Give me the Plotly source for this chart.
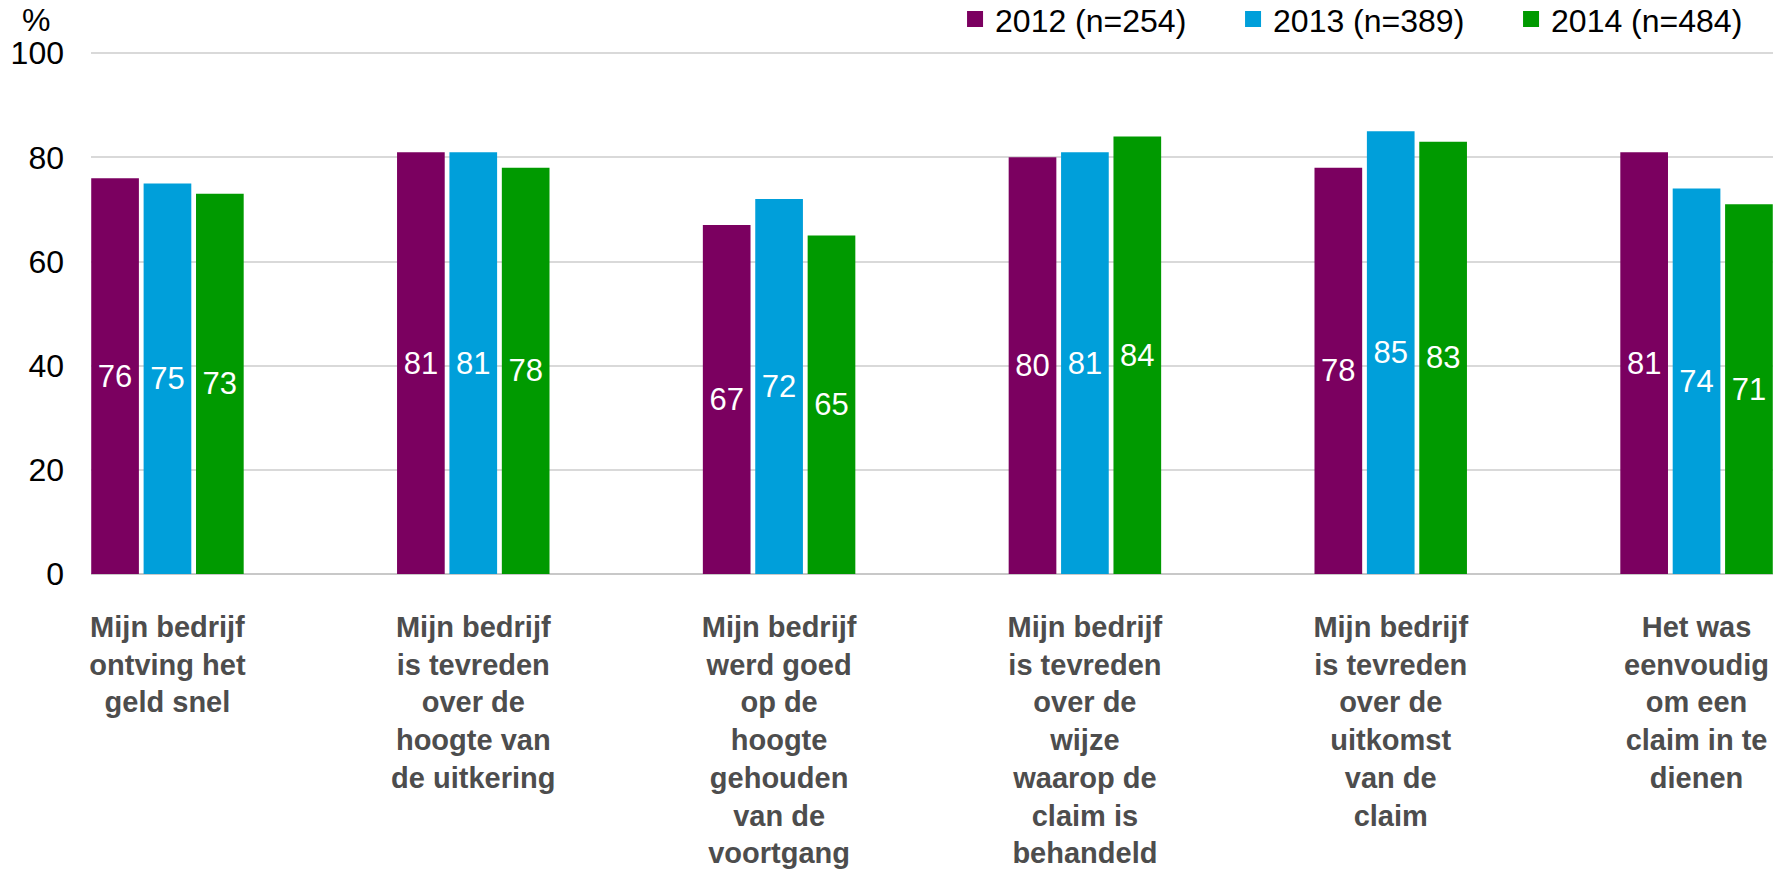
import plotly.graph_objects as go

categories = [
    "Mijn bedrijf<br>ontving het<br>geld snel",
    "Mijn bedrijf<br>is tevreden<br>over de<br>hoogte van<br>de uitkering",
    "Mijn bedrijf<br>werd goed<br>op de<br>hoogte<br>gehouden<br>van de<br>voortgang",
    "Mijn bedrijf<br>is tevreden<br>over de<br>wijze<br>waarop de<br>claim is<br>behandeld",
    "Mijn bedrijf<br>is tevreden<br>over de<br>uitkomst<br>van de<br>claim",
    "Het was<br>eenvoudig<br>om een<br>claim in te<br>dienen",
]
series_names = ["2012 (n=254)", "2013 (n=389)", "2014 (n=484)"]
values_2012 = [76, 81, 67, 80, 78, 81]
values_2013 = [75, 81, 72, 81, 85, 74]
values_2014 = [73, 78, 65, 84, 83, 71]
y_ticks = [0, 20, 40, 60, 80, 100]

colors = ["#7b0060", "#009fda", "#009a00"]
FONT = "Liberation Sans, Arial, sans-serif"

x_pos = list(range(len(categories)))
fig = go.Figure()
for name, vals, col in zip(series_names, [values_2012, values_2013, values_2014], colors):
    fig.add_trace(go.Bar(
        x=x_pos, y=vals, name=name, marker=dict(color=col, line=dict(width=0)),
        text=[str(v) for v in vals], textposition="inside", insidetextanchor="middle",
        textfont=dict(family=FONT, size=31, color="white"), showlegend=False,
        textangle=0,
    ))
for name, col in zip(series_names, colors):
    fig.add_trace(go.Scatter(
        x=[None], y=[None], mode="markers", name=name,
        marker=dict(symbol="square", size=17, color=col),
    ))

fig.update_layout(
    width=1791, height=872,
    margin=dict(l=91, r=18, t=48, b=298, autoexpand=False),
    plot_bgcolor="white", paper_bgcolor="white",
    barmode="group", bargap=0.486, bargroupgap=0.09,
    font=dict(family=FONT, size=32, color="black"),
    legend=dict(orientation="h", x=0.5137, xanchor="left", y=1.1068, yanchor="top",
                font=dict(family=FONT, size=32, color="black"),
                entrywidth=233, bgcolor="rgba(0,0,0,0)"),
)
fig.update_xaxes(
    range=[-0.25, 5.25], tickmode="array", tickvals=x_pos, ticktext=categories,
    tickfont=dict(family=FONT, size=29, color="#4d4d4d", weight="bold"),
    showgrid=False, zeroline=False, showline=False, ticks="", ticklabelstandoff=33,
    tickangle=0,
)
fig.update_yaxes(
    range=[0, 101], tickvals=y_ticks, showgrid=True, gridcolor="#d9d9d9", gridwidth=1.5,
    zeroline=True, zerolinecolor="#c8c8c8", zerolinewidth=1.5, showline=False,
    tickfont=dict(family=FONT, size=32, color="black"), ticks="", ticklabelstandoff=26,
)
fig.add_annotation(text="%", xref="paper", yref="paper", x=-0.0327, y=1.0532,
                   xanchor="center", yanchor="middle",
                   showarrow=False, font=dict(family=FONT, size=32, color="black"))

fig.write_html(
    "out.html",
    config={"displayModeBar": False},
    post_script="document.body.style.margin='0';document.body.style.overflow='hidden';",
)
